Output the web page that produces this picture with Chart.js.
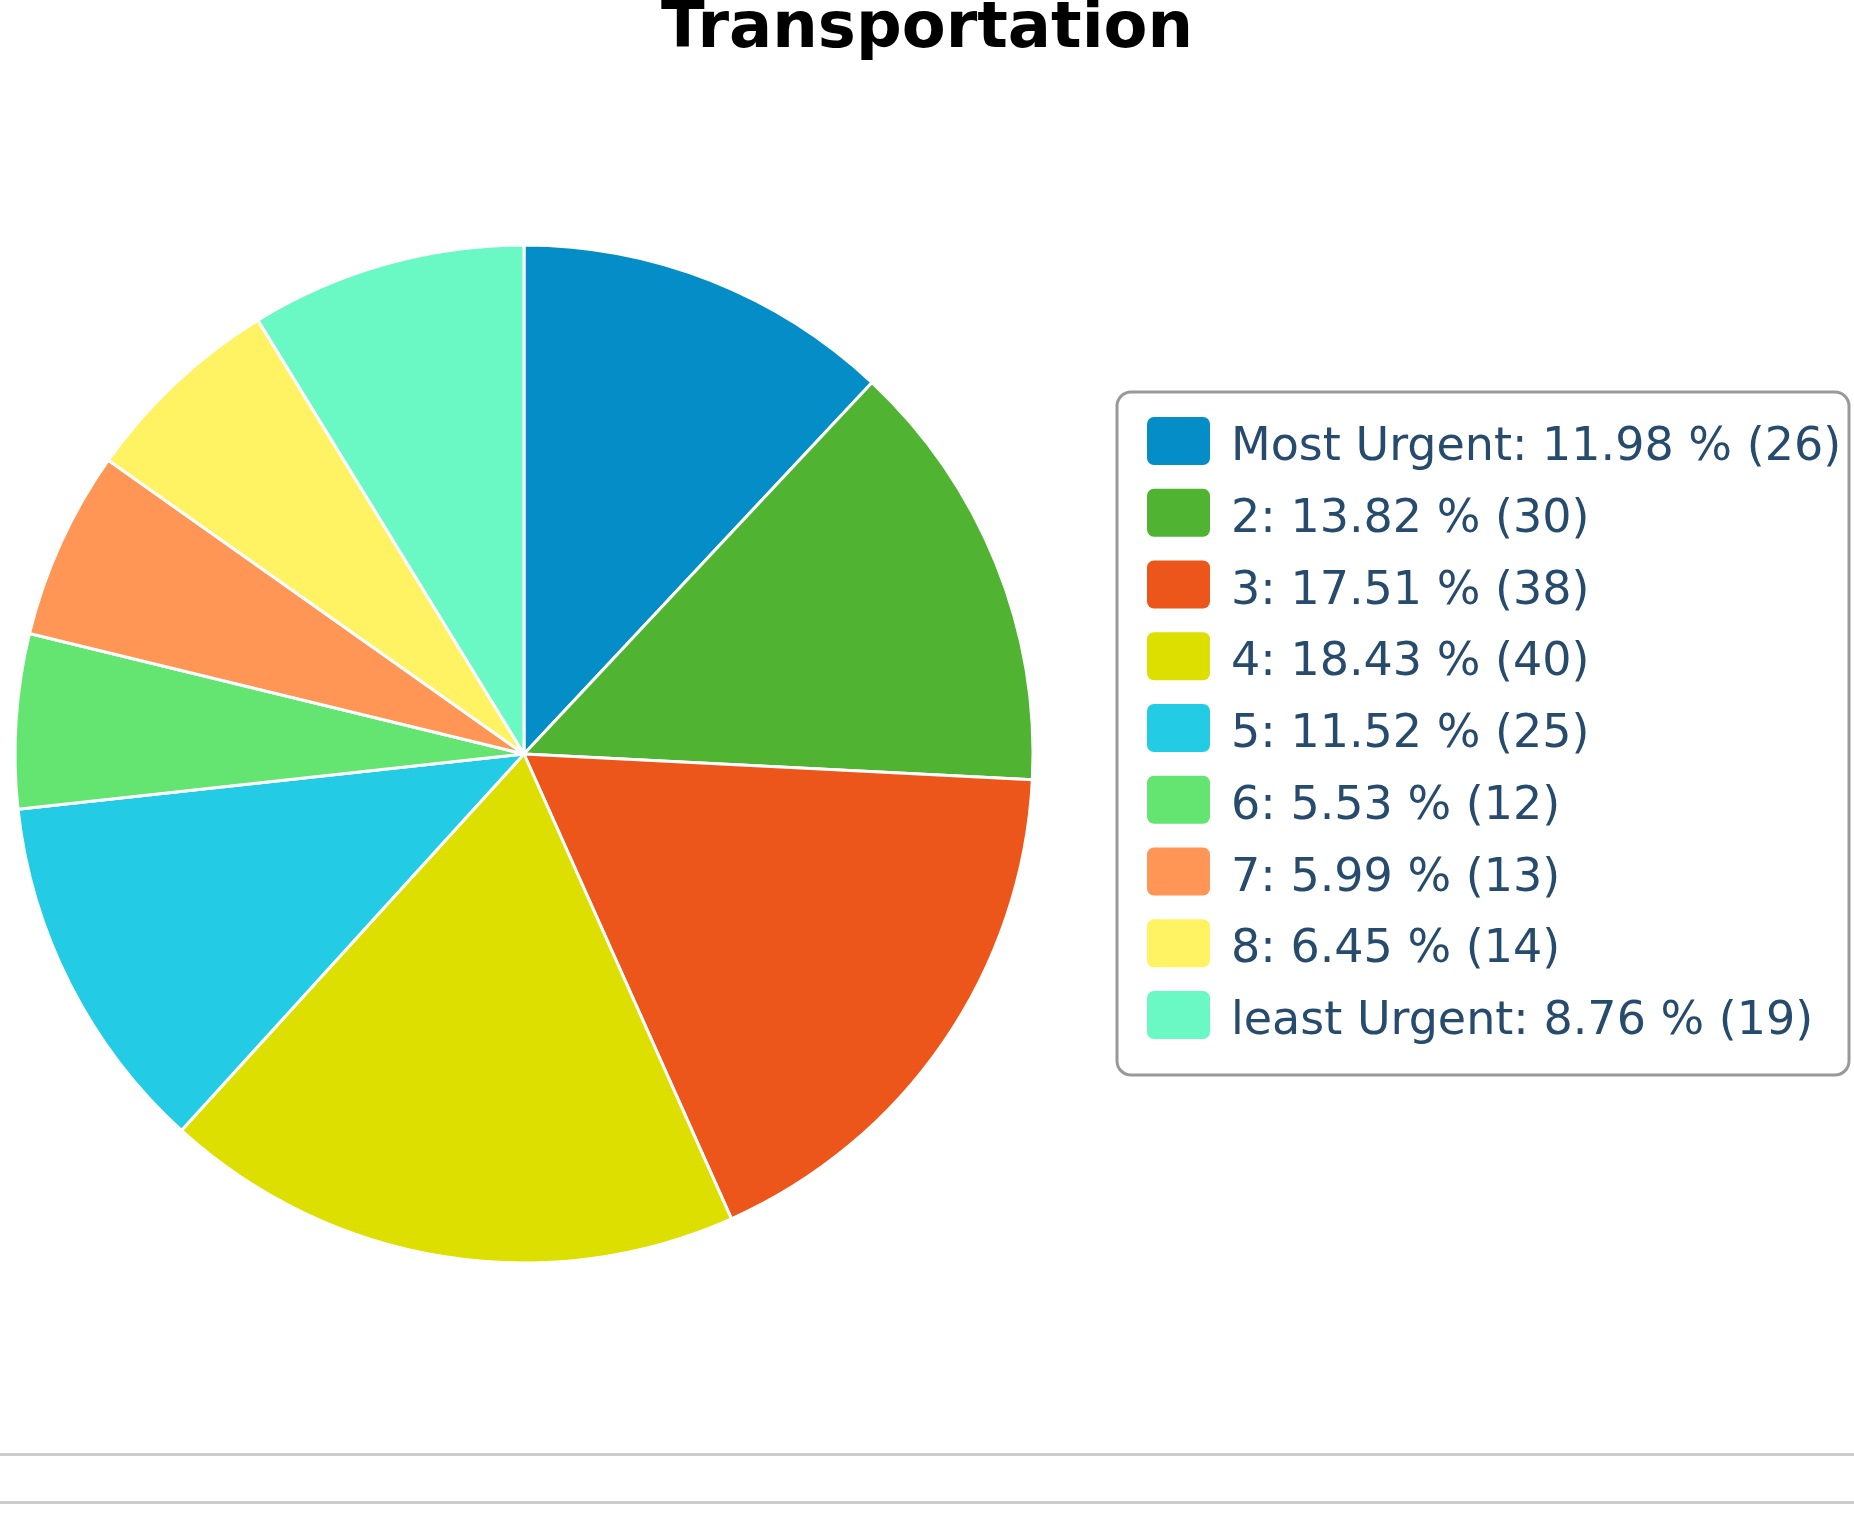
<!DOCTYPE html>
<html>
<head>
<meta charset="utf-8">
<title>Transportation</title>
<script src="https://cdn.jsdelivr.net/npm/chart.js@4.4.1/dist/chart.umd.min.js"></script>
<style>
  body { margin: 0; background: #fff; }
  #wrap { position: relative; width: 1854px; height: 1522px; overflow: hidden; }
  #title {
    position: absolute; left: 0; top: -7px; width: 1854px;
    text-align: center; font: bold 64px/64px "DejaVu Sans", sans-serif; color: #000;
  }
  #chart { position: absolute; left: 0; top: 0; }
  .rule { position: absolute; left: 0; width: 1854px; height: 3px; background: #cccccc; }
</style>
</head>
<body>
<div id="wrap">
  <canvas id="chart" width="1854" height="1440"></canvas>
  <div id="title">Transportation</div>
  <div class="rule" style="top:1453px"></div>
  <div class="rule" style="top:1501px"></div>
</div>
<script>
const labels = ['Most Urgent', '2', '3', '4', '5', '6', '7', '8', 'least Urgent'];
const counts = [26, 30, 38, 40, 25, 12, 13, 14, 19];
const colors = ['#058DC7', '#50B432', '#ED561B', '#DDDF00', '#24CBE5', '#64E572', '#FF9655', '#FFF263', '#6AF9C4'];

const total = counts.reduce((a, b) => a + b, 0);

function legendText(i) {
  const pct = (counts[i] / total * 100).toFixed(2);
  return labels[i] + ': ' + pct + ' % (' + counts[i] + ')';
}

// legend box drawn next to the pie
const legendBox = {
  id: 'legendBox',
  afterDraw(chart) {
    const ctx = chart.ctx;
    const ds = chart.data.datasets[0];
    ctx.save();
    ctx.strokeStyle = '#999999';
    ctx.lineWidth = 3;
    ctx.beginPath();
    ctx.roundRect(1117, 392, 732, 683, 14);
    ctx.stroke();

    ctx.font = '46px "DejaVu Sans", sans-serif';
    ctx.textBaseline = 'alphabetic';
    chart.data.labels.forEach((label, i) => {
      const y = 417 + i * 71.75;
      ctx.fillStyle = ds.backgroundColor[i];
      ctx.beginPath();
      ctx.roundRect(1147, y, 63, 48, 7);
      ctx.fill();
      ctx.fillStyle = '#274b6d';
      ctx.fillText(legendText(i), 1231, y + 43);
    });
    ctx.restore();
  }
};

const pie = new Chart('chart', {
  type: 'pie',
  data: {
    labels: labels,
    datasets: [{
      data: counts,
      backgroundColor: colors,
      borderColor: '#ffffff',
      borderWidth: 3,
      hoverOffset: 0
    }]
  },
  options: {
    responsive: false,
    animation: false,
    radius: 509,
    layout: {
      padding: { left: 0, right: 806, top: 68, bottom: 0 }
    },
    plugins: {
      legend: { display: false },
      title: { display: false },
      tooltip: { enabled: false }
    }
  },
  plugins: [legendBox]
});
</script>
</body>
</html>
